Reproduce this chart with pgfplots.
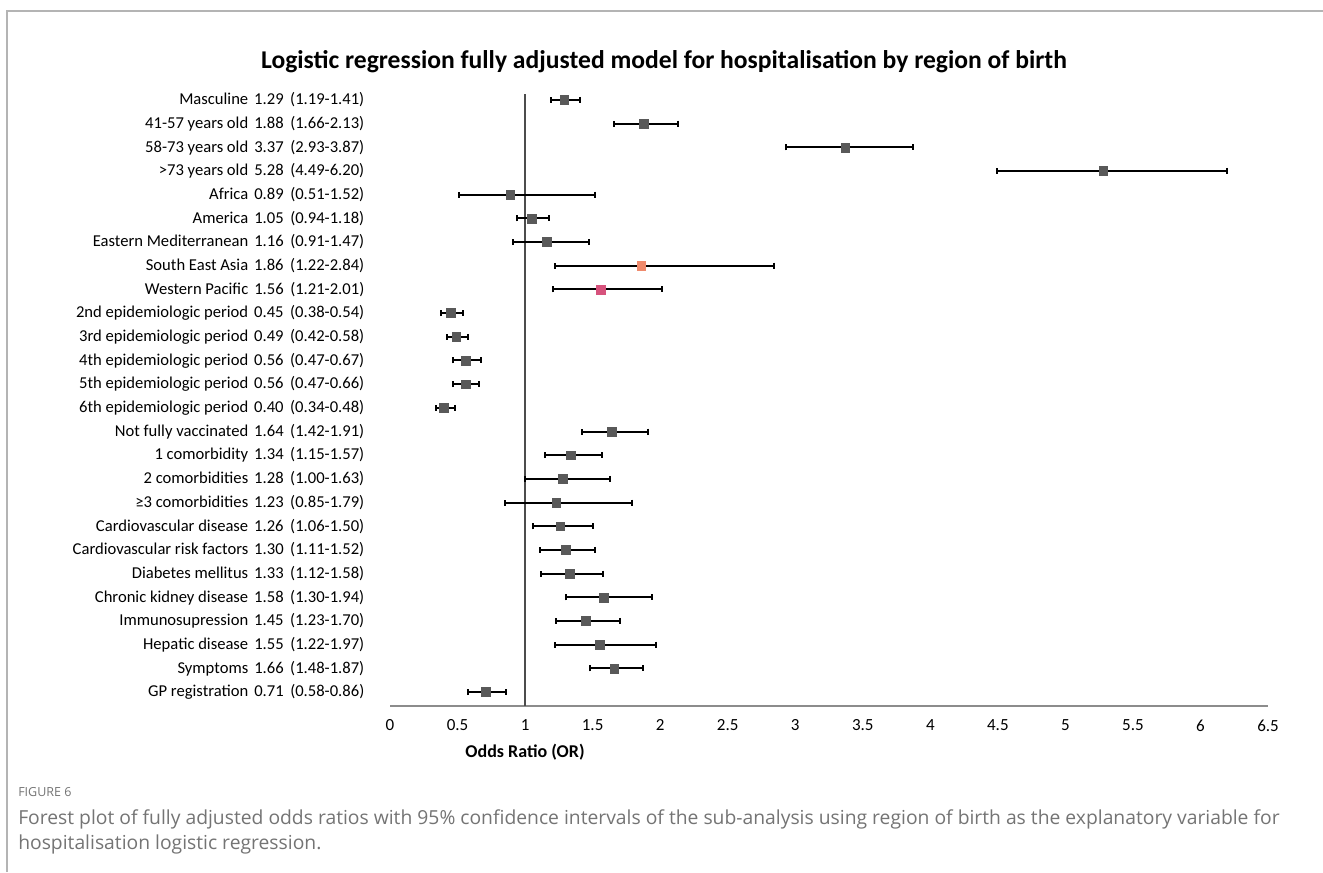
\documentclass[border=0pt]{standalone}
\usepackage{pgfplots}
\pgfplotsset{compat=1.18}
\usepackage{pgfplotstable}
\usepackage{fontspec}
\setmainfont{Carlito}
\newfontfamily\capfont{Open Sans}
\newdimen\px \px=0.75pt
\definecolor{mk}{HTML}{595959}
\definecolor{seasia}{HTML}{EF8A6C}
\definecolor{wpac}{HTML}{D6527C}
\definecolor{framec}{HTML}{B4B4B4}
\definecolor{axc}{HTML}{8C8C8C}
\definecolor{capc}{HTML}{747474}

\pgfplotstableread{
row or lo hi
1 1.29 1.19 1.41
2 1.88 1.66 2.13
3 3.37 2.93 3.87
4 5.28 4.49 6.20
5 0.89 0.51 1.52
6 1.05 0.94 1.18
7 1.16 0.91 1.47
10 0.45 0.38 0.54
11 0.49 0.42 0.58
12 0.56 0.47 0.67
13 0.56 0.47 0.66
14 0.40 0.34 0.48
15 1.64 1.42 1.91
16 1.34 1.15 1.57
17 1.28 1.00 1.63
18 1.23 0.85 1.79
19 1.26 1.06 1.50
20 1.30 1.11 1.52
21 1.33 1.12 1.58
22 1.58 1.30 1.94
23 1.45 1.23 1.70
24 1.55 1.22 1.97
25 1.66 1.48 1.87
26 0.71 0.58 0.86
}\graydata
\pgfplotstableread{
row or lo hi
8 1.86 1.22 2.84
}\seadata
\pgfplotstableread{
row or lo hi
9 1.56 1.21 2.01
}\wpdata

\newcommand\lab[3]{\llap{#1}\hspace{6\px}\makebox[36\px][l]{#2}#3}

\begin{document}
\begin{tikzpicture}
\path[use as bounding box] (0,0) rectangle (1323\px,-872\px);
\fill[white] (0,0) rectangle (1323\px,-872\px);
\draw[framec, line width=2\px] (7\px,-872\px) -- (7\px,-10.5\px) -- (1323\px,-10.5\px);
\node[font=\bfseries\fontsize{25.6\px}{30\px}\selectfont] at (664\px,-62\px) {Logistic regression fully adjusted model for hospitalisation by region of birth};
\begin{axis}[
  at={(390\px,-706\px)}, anchor=south west,
  scale only axis, width=878\px, height=612\px,
  xmin=0, xmax=6.5, ymin=0.75, ymax=26.59, y dir=reverse,
  axis x line*=bottom, axis y line*=left,
  x axis line style={draw=axc, line width=1.6\px},
  y axis line style={draw=none},
  xtick={0,0.5,...,6.5}, ytick={1,...,26},
  major tick length=0pt,
  xtick style={draw=none}, ytick style={draw=none},
  /pgf/number format/assume math mode=true,
  /pgf/number format/fixed,
  xticklabel style={yshift=-9\px, font=\fontsize{17\px}{20\px}\selectfont},
  yticklabel style={anchor=west, inner sep=0pt, xshift=-142\px, font=\fontsize{16.6\px}{20\px}\selectfont},
  yticklabels={
    \lab{Masculine}{1.29}{(1.19-1.41)},
    \lab{41-57 years old}{1.88}{(1.66-2.13)},
    \lab{58-73 years old}{3.37}{(2.93-3.87)},
    \lab{>73 years old}{5.28}{(4.49-6.20)},
    \lab{Africa}{0.89}{(0.51-1.52)},
    \lab{America}{1.05}{(0.94-1.18)},
    \lab{Eastern Mediterranean}{1.16}{(0.91-1.47)},
    \lab{South East Asia}{1.86}{(1.22-2.84)},
    \lab{Western Pacific}{1.56}{(1.21-2.01)},
    \lab{2nd epidemiologic period}{0.45}{(0.38-0.54)},
    \lab{3rd epidemiologic period}{0.49}{(0.42-0.58)},
    \lab{4th epidemiologic period}{0.56}{(0.47-0.67)},
    \lab{5th epidemiologic period}{0.56}{(0.47-0.66)},
    \lab{6th epidemiologic period}{0.40}{(0.34-0.48)},
    \lab{Not fully vaccinated}{1.64}{(1.42-1.91)},
    \lab{1 comorbidity}{1.34}{(1.15-1.57)},
    \lab{2 comorbidities}{1.28}{(1.00-1.63)},
    \lab{≥3 comorbidities}{1.23}{(0.85-1.79)},
    \lab{Cardiovascular disease}{1.26}{(1.06-1.50)},
    \lab{Cardiovascular risk factors}{1.30}{(1.11-1.52)},
    \lab{Diabetes mellitus}{1.33}{(1.12-1.58)},
    \lab{Chronic kidney disease}{1.58}{(1.30-1.94)},
    \lab{Immunosupression}{1.45}{(1.23-1.70)},
    \lab{Hepatic disease}{1.55}{(1.22-1.97)},
    \lab{Symptoms}{1.66}{(1.48-1.87)},
    \lab{GP registration}{0.71}{(0.58-0.86)}
  },
  xlabel={\bfseries Odds Ratio (OR)},
  xlabel style={at={(axis description cs:0.1538,-0.0752)}, anchor=center, font=\fontsize{18\px}{21\px}\selectfont},
  clip=false,
  error bars/x dir=both, error bars/x explicit,
  error bars/error bar style={black, line width=2\px},
  error bars/error mark options={black, line width=2\px, mark size=3\px, rotate=90},
]
\addplot[color=black!70, line width=1.8\px] coordinates {(1,0.75) (1,26.59)};
\addplot[only marks, mark=square*, mark size=4.4\px, mark options={fill=mk, draw=mk, line width=0.3pt}]
  table[x=or, y=row, x error plus expr=\thisrow{hi}-\thisrow{or}, x error minus expr=\thisrow{or}-\thisrow{lo}] {\graydata};
\addplot[only marks, mark=square*, mark size=4.4\px, mark options={fill=seasia, draw=seasia, line width=0.3pt}]
  table[x=or, y=row, x error plus expr=\thisrow{hi}-\thisrow{or}, x error minus expr=\thisrow{or}-\thisrow{lo}] {\seadata};
\addplot[only marks, mark=square*, mark size=4.4\px, mark options={fill=wpac, draw=wpac, line width=0.3pt}]
  table[x=or, y=row, x error plus expr=\thisrow{hi}-\thisrow{or}, x error minus expr=\thisrow{or}-\thisrow{lo}] {\wpdata};
\end{axis}
\node[anchor=west, inner sep=0pt, text=capc, font=\capfont\fontsize{12.5\px}{15\px}\selectfont] at (18\px,-792\px) {FIGURE 6};
\node[anchor=north west, inner sep=0pt, text=capc, font=\capfont\fontsize{19.3\px}{25\px}\selectfont, align=left] at (18\px,-809\px) {Forest plot of fully adjusted odds ratios with 95\% confidence intervals of the sub-analysis using region of birth as the explanatory variable for\\hospitalisation logistic regression.};
\end{tikzpicture}
\end{document}
